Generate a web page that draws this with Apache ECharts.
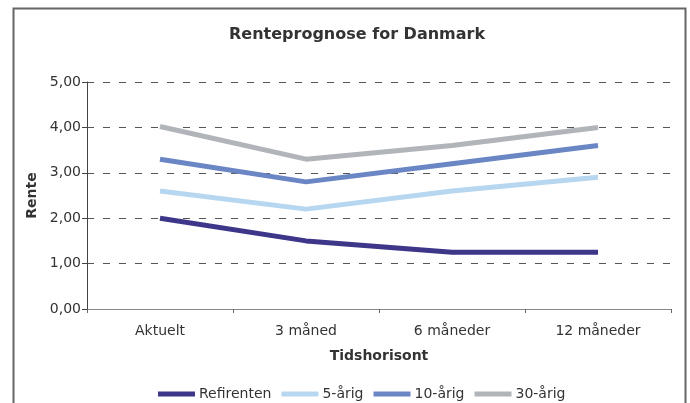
<!DOCTYPE html>
<html><head><meta charset="utf-8">
<script src="https://cdn.jsdelivr.net/npm/echarts@6/dist/echarts.min.js"></script>
<style>html,body{margin:0;padding:0;background:#fff}#c{width:690px;height:403px}</style>
</head><body><div id="c"></div>
<script>
const categories = ['Aktuelt', '3 måned', '6 måneder', '12 måneder'];
const refirenten = [2.00, 1.50, 1.25, 1.25];
const aarig5 = [2.60, 2.20, 2.60, 2.90];
const aarig10 = [3.30, 2.80, 3.20, 3.60];
const aarig30 = [4.02, 3.30, 3.60, 4.00];
const yTicks = [0, 1, 2, 3, 4, 5];

const font = 'DejaVu Sans, Verdana, sans-serif';
const chart = echarts.init(document.getElementById('c'), null, {renderer: 'canvas'});
function mk(name, data, color) {
  return {name, type: 'line', data, symbol: 'none', lineStyle: {width: 5, color}, itemStyle: {color}, animation: false};
}
chart.setOption({
  animation: false,
  graphic: [{type: 'rect', shape: {x: 13.5, y: 8.5, width: 672, height: 420}, style: {fill: 'none', stroke: '#666', lineWidth: 2}, silent: true}],
  title: {text: 'Renteprognose for Danmark', left: 224, top: 22, textStyle: {fontFamily: font, fontSize: 16, fontWeight: 'bold', color: '#333'}},
  grid: {left: 87, right: 19, top: 82, bottom: 94, containLabel: false},
  xAxis: {
    type: 'category', data: categories, boundaryGap: true,
    name: 'Tidshorisont', nameLocation: 'middle', nameGap: 40,
    nameTextStyle: {fontFamily: font, fontSize: 14, fontWeight: 'bold', color: '#333'},
    axisLine: {lineStyle: {color: '#888', width: 1}},
    axisTick: {show: true, length: 4, lineStyle: {color: '#666'}},
    axisLabel: {fontFamily: font, fontSize: 14, color: '#333', margin: 15},
    splitLine: {show: false}
  },
  yAxis: {
    type: 'value', min: yTicks[0], max: yTicks[yTicks.length - 1], interval: 1,
    name: 'Rente', nameLocation: 'middle', nameGap: 48, nameRotate: 90,
    nameTextStyle: {fontFamily: font, fontSize: 14, fontWeight: 'bold', color: '#333'},
    axisLine: {show: true, lineStyle: {color: '#444', width: 1}},
    axisTick: {show: true, length: 5, lineStyle: {color: '#444'}},
    axisLabel: {fontFamily: font, fontSize: 14, color: '#333', margin: 6, formatter: v => v.toFixed(2).replace('.', ',')},
    splitLine: {show: true, lineStyle: {color: '#555', type: [7, 9], width: 1}}
  },
  legend: {
    bottom: -3, left: 153, icon: 'path://M0,0H37V5H0Z', itemWidth: 37, itemHeight: 5, itemGap: 10,
    itemStyle: {borderWidth: 0},
    textStyle: {fontFamily: font, fontSize: 14, color: '#333', padding: [0, 0, 0, -1]},
    data: ['Refirenten', '5-årig', '10-årig', '30-årig']
  },
  series: [
    mk('Refirenten', refirenten, '#3d3689'),
    mk('5-årig', aarig5, '#b7d7f0'),
    mk('10-årig', aarig10, '#6b86c4'),
    mk('30-årig', aarig30, '#b1b4b8')
  ]
});
</script></body></html>
